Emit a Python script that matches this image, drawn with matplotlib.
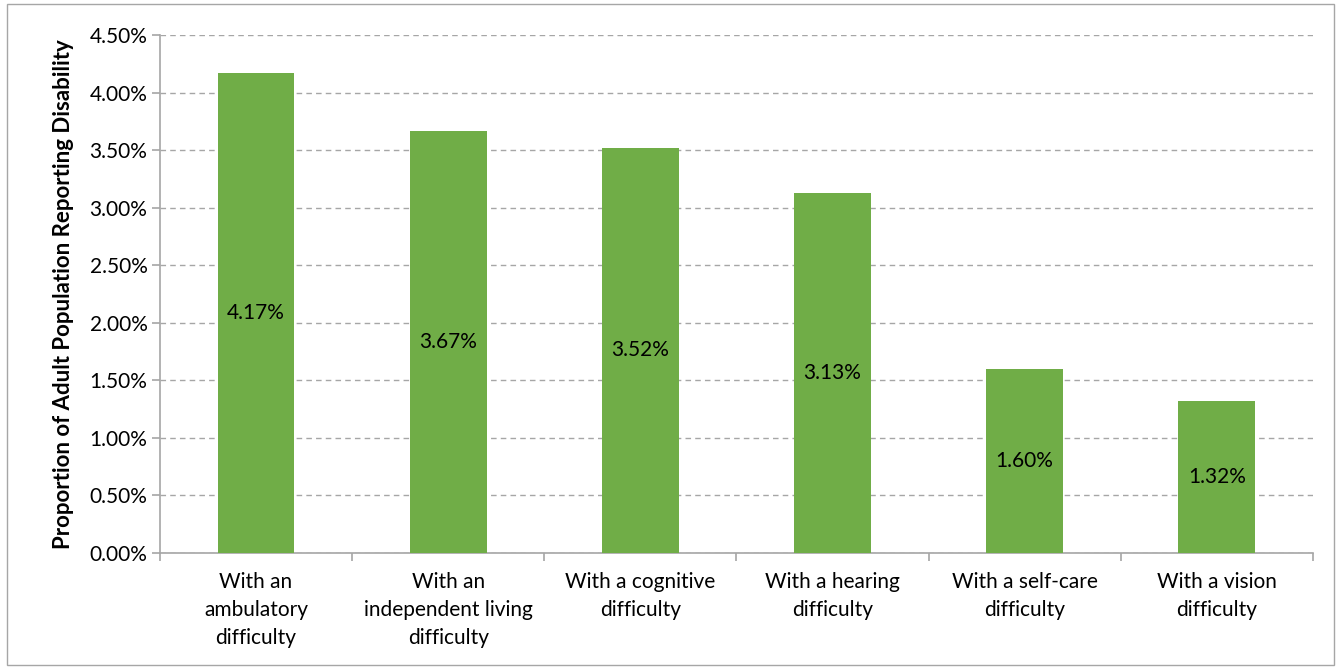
import matplotlib.pyplot as plt
from matplotlib.patches import Rectangle
from matplotlib.ticker import FuncFormatter, MultipleLocator
import numpy as np

categories = ["With an\nambulatory\ndifficulty",
              "With an\nindependent living\ndifficulty",
              "With a cognitive\ndifficulty",
              "With a hearing\ndifficulty",
              "With a self-care\ndifficulty",
              "With a vision\ndifficulty"]
values = [4.17, 3.67, 3.52, 3.13, 1.60, 1.32]
bar_labels = ["4.17%", "3.67%", "3.52%", "3.13%", "1.60%", "1.32%"]

plt.rcParams['font.family'] = ['Lato', 'DejaVu Sans']

fig = plt.figure(figsize=(13.41, 6.69), dpi=100)
ax = fig.add_axes([0.1193, 0.1734, 0.979 - 0.1193, 0.9477 - 0.1734])

x = np.arange(len(categories))
bars = ax.bar(x, values, width=0.40, color="#70ad47", zorder=3)
for b, lab in zip(bars, bar_labels):
	ax.text(b.get_x() + b.get_width() / 2, b.get_height() / 2, lab,
		ha="center", va="center", fontsize=15, color="black", zorder=4)

ax.set_xlim(-0.5, len(categories) - 0.5)
ax.set_ylim(0, 4.5)
ax.yaxis.set_major_locator(MultipleLocator(0.5))
ax.yaxis.set_major_formatter(FuncFormatter(lambda v, p: "%.2f%%" % v))
ax.grid(axis="y", linestyle=(0, (4, 3)), color="#a6a6a6", linewidth=1, zorder=0)

ax.set_xticks(x)
ax.set_xticklabels(categories, fontsize=15, linespacing=1.5)
ax.set_xticks(np.arange(-0.5, len(categories)), minor=True)
ax.tick_params(axis="x", which="major", length=0, pad=14)
ax.tick_params(axis="x", which="minor", length=6, color="#a6a6a6", width=1.2)
ax.tick_params(axis="y", length=6, color="#a6a6a6", width=1.2, labelsize=15, pad=3)

for s in ["top", "right"]:
	ax.spines[s].set_visible(False)
for s in ["left", "bottom"]:
	ax.spines[s].set_color("#a6a6a6")
	ax.spines[s].set_linewidth(1.2)

ax.set_ylabel("Proportion of Adult Population Reporting Disability",
	fontsize=16, fontweight="bold", labelpad=11)

fig.patches.append(Rectangle((0.005, 0.006), 0.99, 0.988, transform=fig.transFigure,
	fill=False, edgecolor="#a6a6a6", linewidth=1))

fig.savefig("out.png", dpi=100)
